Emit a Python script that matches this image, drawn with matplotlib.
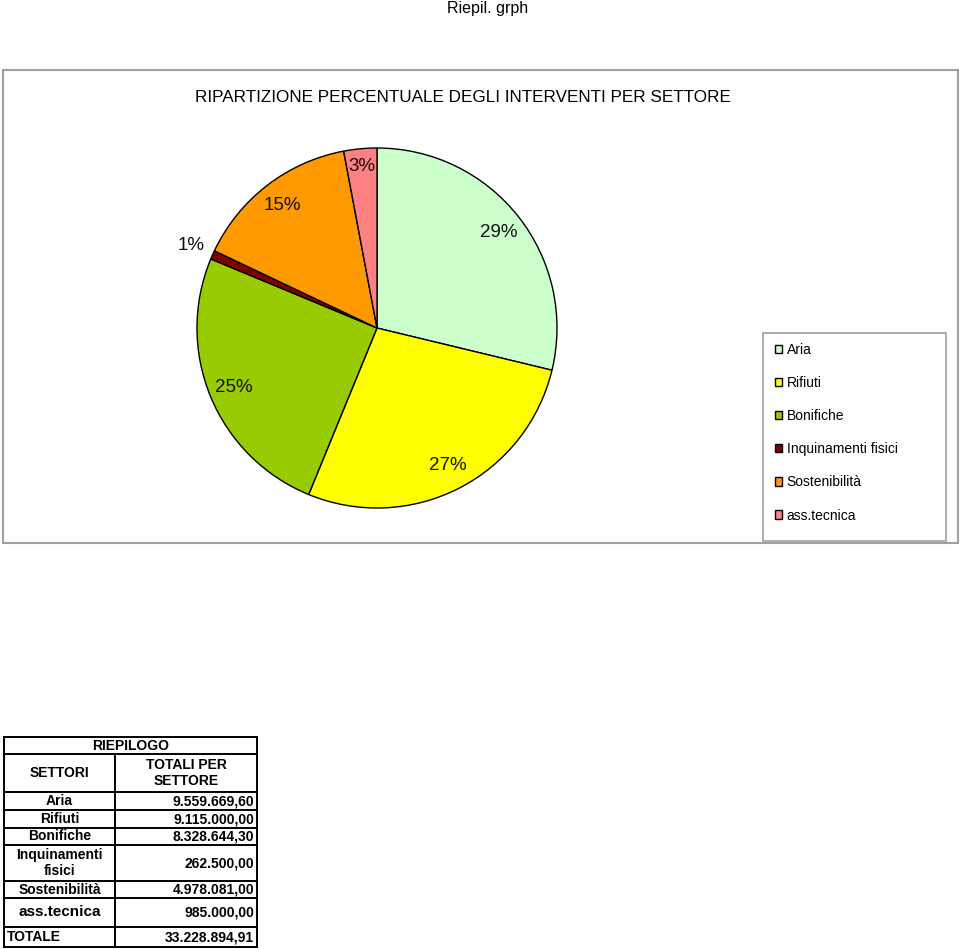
import matplotlib
matplotlib.use("Agg")
import matplotlib.pyplot as plt
from matplotlib.patches import Rectangle
import numpy as np

plt.rcParams['font.family'] = ['Liberation Sans', 'DejaVu Sans']

# ---- data ----
settori = ["Aria", "Rifiuti", "Bonifiche", "Inquinamenti fisici", "Sostenibilità", "ass.tecnica"]
totali = [9559669.60, 9115000.00, 8328644.30, 262500.00, 4978081.00, 985000.00]
colori = ["#CCFFCC", "#FFFF00", "#99CC00", "#800000", "#FF9900", "#FF8080"]
table_labels = ["Aria", "Rifiuti", "Bonifiche", "Inquinamenti\nfisici", "Sostenibilità", "ass.tecnica"]
table_values = ["9.559.669,60", "9.115.000,00", "8.328.644,30", "262.500,00", "4.978.081,00", "985.000,00"]
totale_label = "33.228.894,91"

W, H = 960, 949
fig = plt.figure(figsize=(W / 100, H / 100), dpi=100)

def fx(x):
    return x / W

def fy(y):
    return 1 - y / H

# page header
fig.text(fx(488), fy(9), "Riepil. grph", ha="center", va="center", fontsize=11.5)

# chart frame
fig.patches.append(Rectangle((fx(3), fy(543)), fx(958) - fx(3), fy(70) - fy(543),
                             transform=fig.transFigure, fill=False,
                             edgecolor="#a0a0a0", linewidth=1.5))
fig.text(fx(463), fy(97), "RIPARTIZIONE PERCENTUALE DEGLI INTERVENTI PER SETTORE",
         ha="center", va="center", fontsize=12.3)

# pie
cx, cy, r = 377, 328, 180
ax = fig.add_axes([fx(cx - r), fy(cy + r), fx(2 * r), fy(cy - r) - fy(cy + r)])
wedges, texts, autotexts = ax.pie(
    totali, colors=colori, startangle=90, counterclock=False,
    autopct=lambda p: f"{p:.0f}%", pctdistance=0.86,
    wedgeprops=dict(edgecolor="black", linewidth=1.0),
    textprops=dict(fontsize=13.5, color="#111111"))
# push the tiny slice label outside, nudge the small top one
for i, dist in [(3, 1.13), (5, 0.9)]:
    w = wedges[i]
    ang = np.deg2rad((w.theta1 + w.theta2) / 2)
    autotexts[i].set_position((dist * np.cos(ang), dist * np.sin(ang)))
ax.set_xlim(-1, 1)
ax.set_ylim(-1, 1)
ax.set_aspect("equal")
ax.axis("off")

# legend
fig.patches.append(Rectangle((fx(763), fy(541)), fx(946) - fx(763), fy(333) - fy(541),
                             transform=fig.transFigure, fill=False,
                             edgecolor="#a0a0a0", linewidth=1.2))
leg = fig.legend(wedges, settori, loc="upper left",
                 bbox_to_anchor=(fx(765), fy(333)), frameon=False,
                 fontsize=10, labelspacing=1.38, handlelength=0.55,
                 handleheight=0.55, handletextpad=0.3, borderpad=0.2)
for h in leg.legend_handles:
    h.set_linewidth(1.0)
    h.set_edgecolor("black")

# summary table
x0, x1, x2 = 4, 115, 257
ys = [737, 754, 792, 810, 828, 845, 881, 898, 927, 947]
lw = 1.4

def hline(y, xa, xb):
    fig.add_artist(plt.Line2D([fx(xa), fx(xb)], [fy(y), fy(y)], color="black", linewidth=lw))

def vline(x, ya, yb):
    fig.add_artist(plt.Line2D([fx(x), fx(x)], [fy(ya), fy(yb)], color="black", linewidth=lw))

for y in ys:
    hline(y, x0, x2)
vline(x0, ys[0], ys[-1])
vline(x2, ys[0], ys[-1])
vline(x1, ys[1], ys[-1])

tfs = 10
fig.text(fx((x0 + x2) / 2), fy((ys[0] + ys[1]) / 2), "RIEPILOGO", ha="center", va="center",
         fontsize=tfs, fontweight="bold")
fig.text(fx((x0 + x1) / 2), fy((ys[1] + ys[2]) / 2), "SETTORI", ha="center", va="center",
         fontsize=tfs, fontweight="bold")
fig.text(fx((x1 + x2) / 2), fy((ys[1] + ys[2]) / 2), "TOTALI PER\nSETTORE", ha="center",
         va="center", fontsize=tfs, fontweight="bold", linespacing=1.15)
for i, (lab, val) in enumerate(zip(table_labels, table_values)):
    yc = (ys[2 + i] + ys[3 + i]) / 2
    fs = 11 if lab == "ass.tecnica" else tfs
    fig.text(fx((x0 + x1) / 2), fy(yc), lab, ha="center", va="center",
             fontsize=fs, fontweight="bold", linespacing=1.15)
    fig.text(fx(x2 - 3), fy(yc), val, ha="right", va="center",
             fontsize=tfs, fontweight="bold")
yc = (ys[-2] + ys[-1]) / 2
fig.text(fx(x0 + 3), fy(yc), "TOTALE", ha="left", va="center", fontsize=tfs, fontweight="bold")
fig.text(fx(x2 - 3), fy(yc), totale_label, ha="right", va="center", fontsize=tfs, fontweight="bold")

fig.savefig("out.png", dpi=100, facecolor="white")
